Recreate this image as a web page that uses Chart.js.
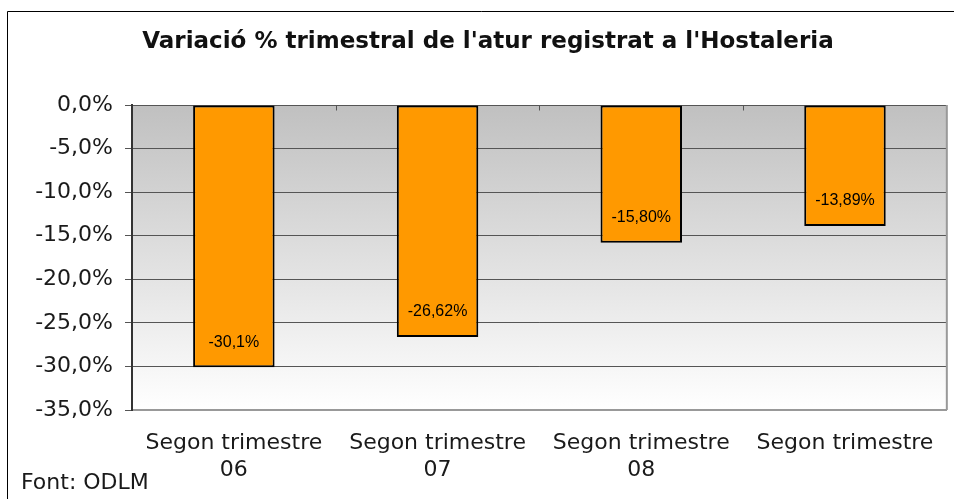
<!DOCTYPE html>
<html>
<head>
<meta charset="utf-8">
<script src="https://cdn.jsdelivr.net/npm/chart.js@4/dist/chart.umd.min.js"></script>
<style>
  body { margin: 0; background: #fff; }
  #wrap { width: 954px; height: 499px; }
</style>
</head>
<body>
<div id="wrap"><canvas id="atur" width="954" height="499"></canvas></div>
<script>
const categories = [['Segon trimestre', '06'], ['Segon trimestre', '07'], ['Segon trimestre', '08'], ['Segon trimestre']];
const variacio = [-30.1, -26.62, -15.80, -13.89];
const valueLabels = ['-30,1%', '-26,62%', '-15,80%', '-13,89%'];
const yTicks = [0, -5, -10, -15, -20, -25, -30, -35];
const titleText = "Variació % trimestral de l'atur registrat a l'Hostaleria";
const sourceText = 'Font: ODLM';

document.addEventListener('DOMContentLoaded', function() {
    const ctx = document.getElementById('atur').getContext('2d');

    // background, frame and the grey gradient behind the plot
    const backdrop = {
        id: 'backdrop',
        beforeDraw(chart) {
            const c = chart.ctx;
            const a = chart.chartArea;
            c.save();
            c.fillStyle = '#fff';
            c.fillRect(0, 0, chart.width, chart.height);
            c.strokeStyle = '#000';
            c.lineWidth = 1;
            c.beginPath();
            c.moveTo(7.5, chart.height + 5);
            c.lineTo(7.5, 11.5);
            c.lineTo(chart.width + 5, 11.5);
            c.stroke();
            const g = c.createLinearGradient(0, a.top, 0, a.bottom);
            g.addColorStop(0, '#c0c0c0');
            g.addColorStop(1, '#ffffff');
            c.fillStyle = g;
            c.fillRect(a.left, a.top, a.right - a.left, a.bottom - a.top);
            c.restore();
        },
        afterDraw(chart) {
            const c = chart.ctx;
            const a = chart.chartArea;
            const x = chart.scales.x;
            const y = chart.scales.y;
            c.save();
            // right edge of plot
            c.strokeStyle = '#999';
            c.lineWidth = 2;
            c.beginPath();
            c.moveTo(a.right, a.top);
            c.lineTo(a.right, a.bottom);
            c.stroke();
            // category ticks on the zero line
            c.strokeStyle = '#555';
            c.lineWidth = 1;
            const y0 = Math.round(y.getPixelForValue(0)) + 0.5;
            for (let i = 1; i < categories.length; i++) {
                const px = Math.round(x.getPixelForValue(i - 0.5)) + 0.5;
                c.beginPath();
                c.moveTo(px, y0);
                c.lineTo(px, y0 + 5);
                c.stroke();
            }
            // value labels inside bars
            c.fillStyle = '#000';
            c.font = '16px "Liberation Sans", Arial, sans-serif';
            c.textAlign = 'center';
            c.textBaseline = 'middle';
            chart.getDatasetMeta(0).data.forEach((bar, i) => {
                c.fillText(valueLabels[i], bar.x, bar.y - 25);
            });
            // title and source
            c.fillStyle = '#111';
            c.font = 'bold 23px "DejaVu Sans", sans-serif';
            c.fillText(titleText, 488, 42);
            c.textAlign = 'left';
            c.font = '22px "DejaVu Sans", sans-serif';
            c.fillStyle = '#1a1a1a';
            c.fillText(sourceText, 21, 483);
            c.restore();
        }
    };

    new Chart(ctx, {
        type: 'bar',
        data: {
            labels: categories,
            datasets: [{
                data: variacio,
                backgroundColor: '#ff9900',
                borderColor: '#000',
                borderWidth: 2,
                borderSkipped: false,
                barPercentage: 0.4,
                categoryPercentage: 1.0
            }]
        },
        options: {
            responsive: false,
            animation: false,
            events: [],
            layout: { padding: { left: 0, right: 5, top: 105, bottom: 0 } },
            plugins: {
                legend: { display: false },
                title: { display: false },
                tooltip: { enabled: false }
            },
            scales: {
                x: {
                    afterFit: (scale) => { scale.height = 89; },
                    grid: { display: false, drawTicks: false },
                    border: { display: true, color: '#999', width: 2 },
                    ticks: {
                        color: '#1a1a1a',
                        padding: 20,
                        maxRotation: 0,
                        autoSkip: false,
                        font: { family: '"DejaVu Sans", sans-serif', size: 22, lineHeight: 1.22 }
                    }
                },
                y: {
                    min: -35,
                    max: 0,
                    afterFit: (scale) => { scale.width = 132; },
                    afterBuildTicks: (scale) => { scale.ticks = yTicks.map(v => ({ value: v })); },
                    grid: { color: '#555', lineWidth: 1, tickLength: 7, tickColor: '#555' },
                    border: { display: true, color: '#333', width: 2 },
                    ticks: {
                        color: '#1a1a1a',
                        padding: 12,
                        font: { family: '"DejaVu Sans", sans-serif', size: 22 },
                        callback: (v) => v.toFixed(1).replace('.', ',') + '%'
                    }
                }
            }
        },
        plugins: [backdrop]
    });
});
</script>
</body>
</html>
